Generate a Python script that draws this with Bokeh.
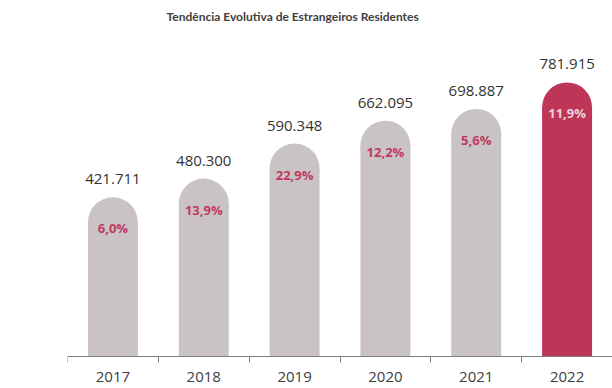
from bokeh.plotting import figure
from bokeh.models import ColumnDataSource, Range1d, FixedTicker, LinearAxis
from bokeh.core.properties import value
from bokeh.embed import file_html
from bokeh.resources import INLINE

years = ["2017", "2018", "2019", "2020", "2021", "2022"]
residents = [421711, 480300, 590348, 662095, 698887, 781915]
growth = ["6,0%", "13,9%", "22,9%", "12,2%", "5,6%", "11,9%"]
title_text = "Tendência Evolutiva de Estrangeiros Residentes"

GREY = "#c9c3c5"
RED = "#bf3558"

xs = list(range(1, len(years) + 1))
fill = [GREY] * (len(years) - 1) + [RED]
pct_col = ["#c1395f"] * (len(years) - 1) + ["#ead3da"]
val_lbl = [f"{v:,}".replace(",", ".") for v in residents]

src = ColumnDataSource(dict(x=xs, top=residents, base=[0] * len(xs), fill=fill, pct=growth,
                            pct_col=pct_col, lbl=val_lbl, year=years))

p = figure(width=612, height=388, x_range=Range1d(0.5, 6.5), y_range=Range1d(-99500, 1026300),
           output_backend="svg", toolbar_location=None, y_axis_location=None,
           x_axis_location=None,
           min_border_left=67, min_border_right=0, min_border_top=0, min_border_bottom=0,
           title=title_text)
p.title.align = "left"
p.title.offset = 99
p.title.text_font = "Lato"
p.title.text_font_size = "12px"
p.title.text_font_style = "bold"
p.title.text_color = "#404040"
p.title.standoff = 12

p.outline_line_color = None
p.xgrid.visible = False
p.ygrid.visible = False

BW = 0.55
p.vbar(x="x", top="top", bottom="base", width=BW, fill_color="fill", line_color=None, source=src)
p.ellipse(x="x", y="top", width=BW, height=50, width_units="data", height_units="screen",
          fill_color="fill", line_color=None, source=src)

p.text(x="x", y="top", text="pct", text_color="pct_col", text_align="center",
       text_baseline="middle", y_offset=6, text_font=value("Open Sans"),
       text_font_size="13px", text_font_style="bold", source=src)
p.text(x="x", y="top", text="lbl", text_color="#333333", text_align="center",
       text_baseline="middle", y_offset=-43, text_font=value("Open Sans"),
       text_font_size="15px", source=src)
p.text(x="x", y="base", text="year", text_color="#404040", text_align="center",
       text_baseline="middle", y_offset=20, text_font=value("Open Sans"),
       text_font_size="15px", source=src)

ax = LinearAxis(fixed_location=0)
ax.ticker = FixedTicker(ticks=xs, minor_ticks=[x - 0.5 for x in xs] + [xs[-1] + 0.5])
ax.major_label_overrides = {x: "" for x in xs}
ax.major_tick_out = 0
ax.major_tick_in = 0
ax.minor_tick_out = 0
ax.minor_tick_in = 6
ax.minor_tick_line_color = "#7f7f7f"
ax.axis_line_color = "#7f7f7f"
ax.major_label_standoff = 0
ax.major_label_text_font_size = "1px"
p.add_layout(ax, "above")

open("out.html", "w").write(file_html(p, INLINE))
